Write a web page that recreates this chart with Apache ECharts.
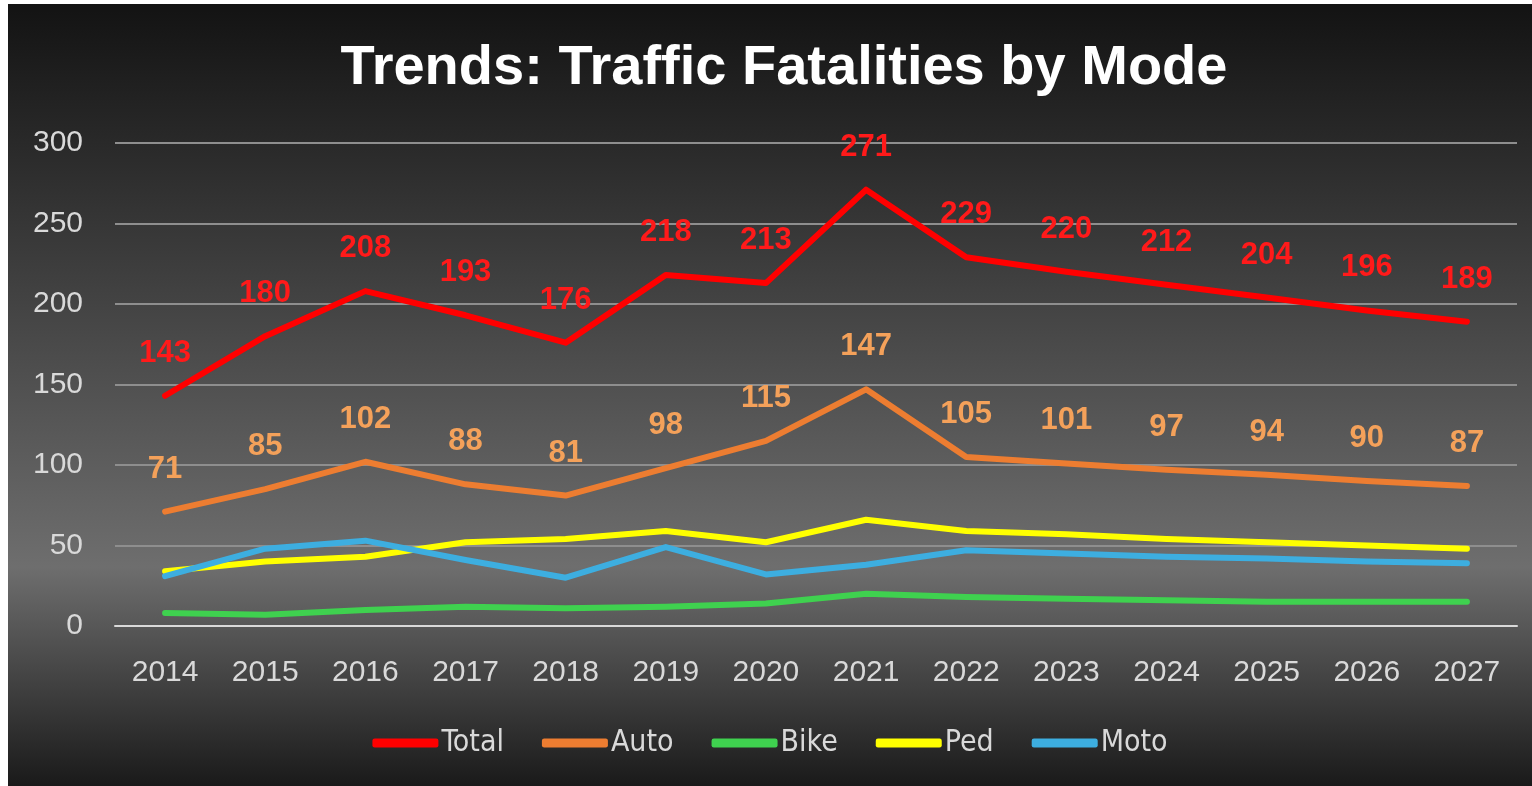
<!DOCTYPE html>
<html>
<head>
    <meta charset="utf-8">
    <title>Traffic Fatalities by Mode</title>
    <script src="https://cdn.jsdelivr.net/npm/echarts@6/dist/echarts.min.js"></script>
    <style>
        html, body { margin: 0; padding: 0; background: #ffffff; }
        #chart {
            position: absolute;
            left: 8px;
            top: 4px;
            width: 1524px;
            height: 782px;
        }
    </style>
</head>
<body>
<div id="chart"></div>
<script>
    var years = ['2014', '2015', '2016', '2017', '2018', '2019', '2020', '2021', '2022', '2023', '2024', '2025', '2026', '2027'];
    var total = [143, 180, 208, 193, 176, 218, 213, 271, 229, 220, 212, 204, 196, 189];
    var auto = [71, 85, 102, 88, 81, 98, 115, 147, 105, 101, 97, 94, 90, 87];
    var bike = [8, 7, 10, 12, 11, 12, 14, 20, 18, 17, 16, 15, 15, 15];
    var ped = [34, 40, 43, 52, 54, 59, 52, 66, 59, 57, 54, 52, 50, 48];
    var moto = [31, 48, 53, 41, 30, 49, 32, 38, 47, 45, 43, 42, 40, 39];
    var yTicks = [0, 50, 100, 150, 200, 250, 300];

    var chart = echarts.init(document.getElementById('chart'));

    function lineSeries(name, data, color, labelColor) {
        var s = {
            name: name,
            type: 'line',
            data: data,
            symbol: 'none',
            lineStyle: { color: color, width: 6, cap: 'round', join: 'round' },
            itemStyle: { color: color },
            label: { show: false }
        };
        if (labelColor) {
            s.label = {
                show: true,
                position: 'top',
                distance: 27,
                color: labelColor,
                fontFamily: 'Liberation Sans',
                fontWeight: 'bold',
                fontSize: 31
            };
            s.showSymbol = true;
            s.symbol = 'circle';
            s.symbolSize = 0.1;
        }
        return s;
    }

    var option = {
        backgroundColor: {
            type: 'linear', x: 0, y: 0, x2: 0, y2: 1,
            colorStops: [
                { offset: 0, color: '#131313' },
                { offset: 0.2, color: '#2c2c2c' },
                { offset: 0.72, color: '#6e6e6e' },
                { offset: 1, color: '#1a1a1a' }
            ]
        },
        title: {
            text: 'Trends: Traffic Fatalities by Mode',
            left: 771,
            textAlign: 'center',
            top: 32,
            textStyle: {
                color: '#ffffff',
                fontFamily: 'Liberation Sans',
                fontWeight: 'bold',
                fontSize: 56
            }
        },
        legend: {
            data: ['Total', 'Auto', 'Bike', 'Ped', 'Moto'],
            left: 'center',
            top: 719,
            itemWidth: 66,
            itemHeight: 9,
            itemGap: 38,
            icon: 'roundRect',
            textStyle: {
                color: '#d9d9d9',
                fontFamily: 'DejaVu Sans Condensed',
                fontSize: 30,
                padding: [0, 0, 0, -2]
            }
        },
        grid: { left: 107, right: 15, top: 139, bottom: 160, containLabel: false },
        xAxis: {
            type: 'category',
            data: years,
            boundaryGap: true,
            axisLine: { show: true, lineStyle: { color: '#d9d9d9', width: 2 } },
            axisTick: { show: false },
            axisLabel: {
                color: '#d9d9d9',
                fontFamily: 'Liberation Sans',
                fontSize: 30,
                margin: 32
            }
        },
        yAxis: {
            type: 'value',
            min: yTicks[0],
            max: yTicks[yTicks.length - 1],
            interval: 50,
            axisLine: { show: false },
            axisTick: { show: false },
            axisLabel: {
                color: '#d9d9d9',
                fontFamily: 'Liberation Sans',
                fontSize: 30,
                margin: 32
            },
            splitLine: { lineStyle: { color: '#8e8e8e', width: 2 } }
        },
        series: [
            lineSeries('Total', total, '#ff0000', '#ff1a1a'),
            lineSeries('Auto', auto, '#ed7d31', '#f4a15a'),
            lineSeries('Bike', bike, '#3fd14f'),
            lineSeries('Ped', ped, '#ffff00'),
            lineSeries('Moto', moto, '#3daee0')
        ]
    };
    chart.setOption(option);

    window.onresize = function () {
        chart.resize();
    };
</script>
</body>
</html>
